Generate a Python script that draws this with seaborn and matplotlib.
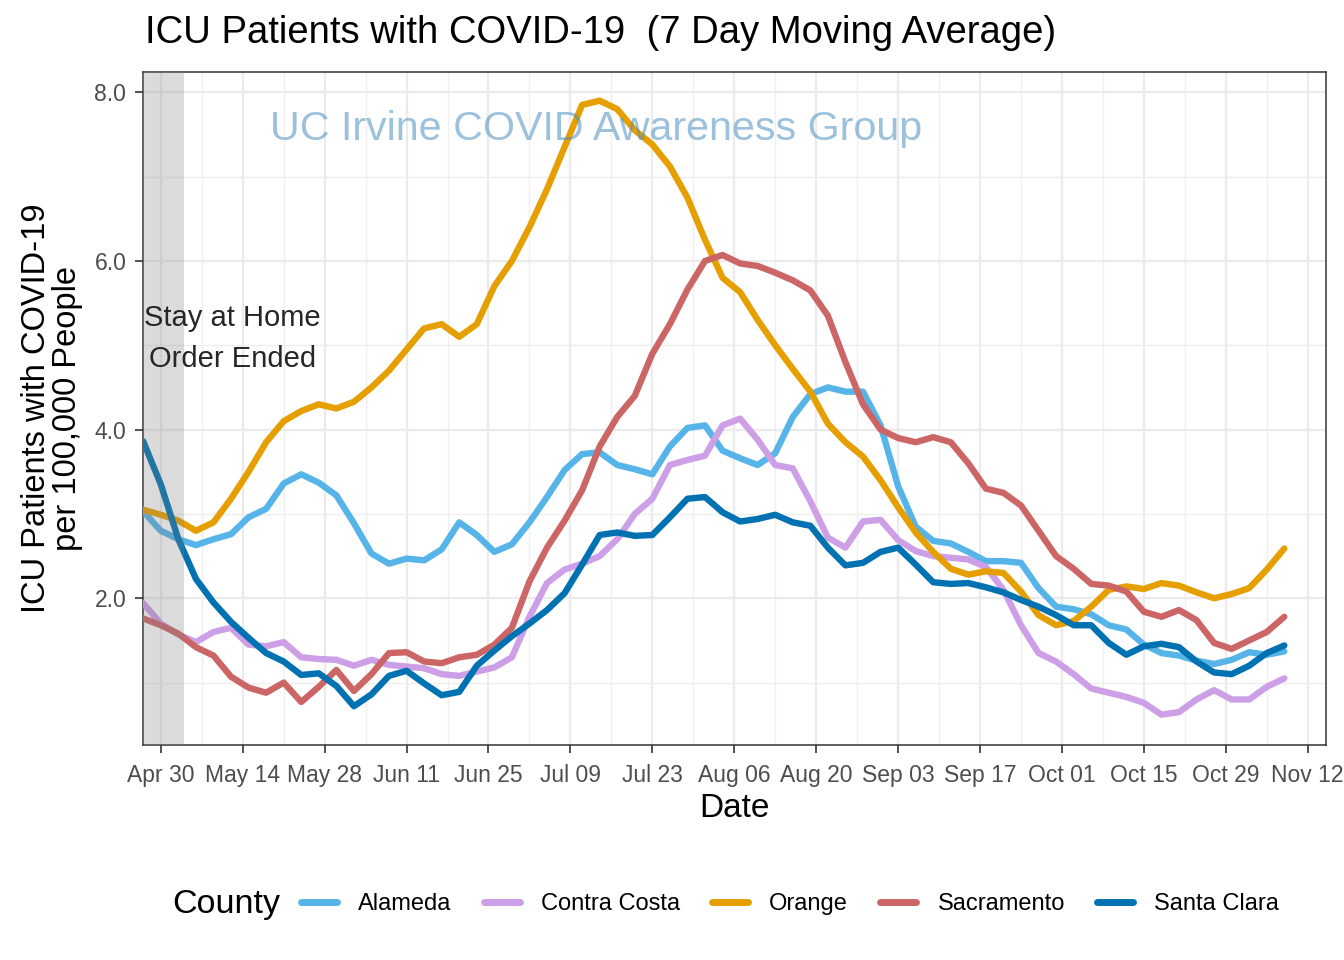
import numpy as np
import pandas as pd
import matplotlib
matplotlib.use("Agg")
import matplotlib.pyplot as plt
import matplotlib.dates as mdates
import seaborn as sns

# datas (a cada 3 dias, 27/abr a 08/nov)
datas = pd.date_range("2020-04-27", periods=66, freq="3D")

alameda = [3.03, 2.80, 2.70, 2.63, 2.70, 2.76, 2.96, 3.06, 3.36, 3.47, 3.37, 3.22, 2.89, 2.53, 2.41, 2.47,
           2.45, 2.58, 2.90, 2.75, 2.55, 2.64, 2.90, 3.20, 3.52, 3.71, 3.73, 3.58, 3.53, 3.47, 3.80, 4.02,
           4.05, 3.75, 3.66, 3.58, 3.72, 4.15, 4.42, 4.50, 4.45, 4.45, 4.05, 3.33, 2.85, 2.68, 2.65, 2.55,
           2.44, 2.44, 2.42, 2.12, 1.90, 1.87, 1.81, 1.68, 1.63, 1.45, 1.35, 1.32, 1.26, 1.22, 1.27, 1.36,
           1.33, 1.37]
contra_costa = [1.94, 1.70, 1.57, 1.48, 1.60, 1.65, 1.45, 1.43, 1.48, 1.30, 1.28, 1.27, 1.20, 1.27, 1.21, 1.19,
                1.17, 1.10, 1.08, 1.13, 1.18, 1.30, 1.78, 2.18, 2.34, 2.41, 2.50, 2.70, 3.00, 3.18, 3.58, 3.64,
                3.69, 4.05, 4.13, 3.88, 3.58, 3.54, 3.15, 2.72, 2.60, 2.91, 2.93, 2.69, 2.56, 2.50, 2.48, 2.46,
                2.37, 2.10, 1.68, 1.35, 1.25, 1.10, 0.93, 0.88, 0.83, 0.76, 0.62, 0.65, 0.80, 0.91, 0.80, 0.80,
                0.95, 1.05]
orange = [3.05, 2.99, 2.92, 2.80, 2.90, 3.18, 3.50, 3.85, 4.10, 4.22, 4.30, 4.25, 4.33, 4.50, 4.70, 4.95,
          5.20, 5.25, 5.10, 5.25, 5.70, 6.00, 6.40, 6.85, 7.35, 7.85, 7.90, 7.80, 7.55, 7.38, 7.12, 6.75,
          6.25, 5.80, 5.63, 5.30, 5.00, 4.72, 4.45, 4.07, 3.85, 3.68, 3.40, 3.08, 2.78, 2.55, 2.35, 2.28,
          2.32, 2.30, 2.08, 1.80, 1.68, 1.73, 1.90, 2.10, 2.14, 2.11, 2.18, 2.15, 2.07, 2.00, 2.05, 2.12,
          2.34, 2.59]
sacramento = [1.76, 1.68, 1.58, 1.42, 1.32, 1.07, 0.94, 0.88, 1.00, 0.77, 0.95, 1.15, 0.90, 1.10, 1.35, 1.36,
              1.25, 1.23, 1.30, 1.33, 1.45, 1.65, 2.20, 2.60, 2.92, 3.28, 3.80, 4.15, 4.40, 4.90, 5.25, 5.66,
              6.00, 6.07, 5.97, 5.94, 5.86, 5.77, 5.65, 5.35, 4.80, 4.30, 4.00, 3.90, 3.85, 3.91, 3.85, 3.60,
              3.30, 3.25, 3.10, 2.80, 2.50, 2.35, 2.17, 2.15, 2.08, 1.84, 1.78, 1.86, 1.74, 1.47, 1.40, 1.50,
              1.60, 1.78]
santa_clara = [3.86, 3.35, 2.70, 2.23, 1.95, 1.72, 1.53, 1.35, 1.25, 1.09, 1.11, 0.96, 0.72, 0.86, 1.08, 1.14,
               0.99, 0.85, 0.89, 1.20, 1.38, 1.55, 1.70, 1.86, 2.06, 2.40, 2.75, 2.78, 2.74, 2.75, 2.96, 3.18,
               3.20, 3.02, 2.91, 2.94, 2.99, 2.90, 2.86, 2.60, 2.39, 2.42, 2.55, 2.60, 2.40, 2.19, 2.17, 2.18,
               2.13, 2.07, 1.98, 1.90, 1.80, 1.68, 1.68, 1.47, 1.33, 1.43, 1.46, 1.42, 1.25, 1.12, 1.10, 1.20,
               1.35, 1.44]

condados = ["Alameda", "Contra Costa", "Orange", "Sacramento", "Santa Clara"]
cores = {"Alameda": "#56B4E9", "Contra Costa": "#CC9FE6", "Orange": "#E69F00",
         "Sacramento": "#CC6666", "Santa Clara": "#0072B2"}

df = pd.concat([pd.DataFrame({"Date": datas, "Valor": v, "County": c})
                for c, v in zip(condados, [alameda, contra_costa, orange, sacramento, santa_clara])])

sns.set_theme(style="white")
plt.rcParams["font.family"] = ["Liberation Sans", "DejaVu Sans"]

fig = plt.figure(figsize=(13.44, 9.6), dpi=100)
ax = fig.add_axes([143/1344, 1-745/960, (1326-143)/1344, (745-72)/960])

sns.lineplot(data=df, x="Date", y="Valor", hue="County", hue_order=condados,
             palette=cores, lw=4.6, ax=ax, legend=False, zorder=3)

# fim da ordem de ficar em casa
ax.axvspan(pd.Timestamp("2020-04-20"), pd.Timestamp("2020-05-03 22:00"), color="grey", alpha=0.28,
           lw=0, zorder=4)
ax.text(pd.Timestamp("2020-05-12 05:00"), 5.08, "Stay at Home\nOrder Ended", ha="center", va="center",
        fontsize=21, linespacing=1.55, zorder=5)
ax.text(pd.Timestamp("2020-07-13 10:00"), 7.56, "UC Irvine COVID Awareness Group", ha="center", va="center",
        fontsize=29.7, color="#4B8FC0", alpha=0.55, zorder=5)

ax.set_xlim(pd.Timestamp("2020-04-26 23:00"), pd.Timestamp("2020-11-15 03:00"))
ax.set_ylim(0.26, 8.24)

major_x = pd.date_range("2020-04-30", "2020-11-12", freq="14D")
minor_x = pd.date_range("2020-05-07", "2020-11-05", freq="14D")
ax.set_xticks(major_x)
ax.set_xticks(minor_x, minor=True)
ax.xaxis.set_major_formatter(mdates.DateFormatter("%b %d"))
ax.set_yticks([2, 4, 6, 8])
ax.set_yticklabels(["2.0", "4.0", "6.0", "8.0"])
ax.set_yticks([1, 3, 5, 7], minor=True)

ax.grid(which="major", color="#EBEBEB", lw=1.6, zorder=0)
ax.grid(which="minor", color="#EFEFEF", lw=1.0, zorder=0)
ax.set_axisbelow(True)
ax.tick_params(which="major", length=6, width=1.2, color="#333333", labelsize=16.5,
               labelcolor="#4D4D4D", direction="out", bottom=True, left=True)
ax.tick_params(axis="x", which="major", pad=8)
ax.tick_params(axis="y", which="major", pad=6)
ax.tick_params(which="minor", length=0)
for s in ax.spines.values():
    s.set_color("#333333")
    s.set_linewidth(1.1)

ax.set_xlabel("Date", fontsize=24, labelpad=4, color="black")
ax.set_ylabel("ICU Patients with COVID-19\nper 100,000 People", fontsize=23.5, labelpad=8,
              linespacing=1.0, color="black")

fig.text(145/1344, 1-43/960, "ICU Patients with COVID-19  (7 Day Moving Average)", fontsize=27.5,
         ha="left", va="baseline", color="black")

# legenda
handles = [plt.Line2D([], [], color=cores[c], lw=5) for c in condados]
fig.text(172/1344, 1-904/960, "County", fontsize=24.5, ha="left", va="center", color="black")
fig.legend(handles, condados, loc="center", bbox_to_anchor=(790/1344, 1-904/960), ncol=5, frameon=False,
           fontsize=17, handlelength=1.53, handletextpad=0.9, columnspacing=1.35, labelcolor="black")

fig.savefig("out.png", dpi=100)
